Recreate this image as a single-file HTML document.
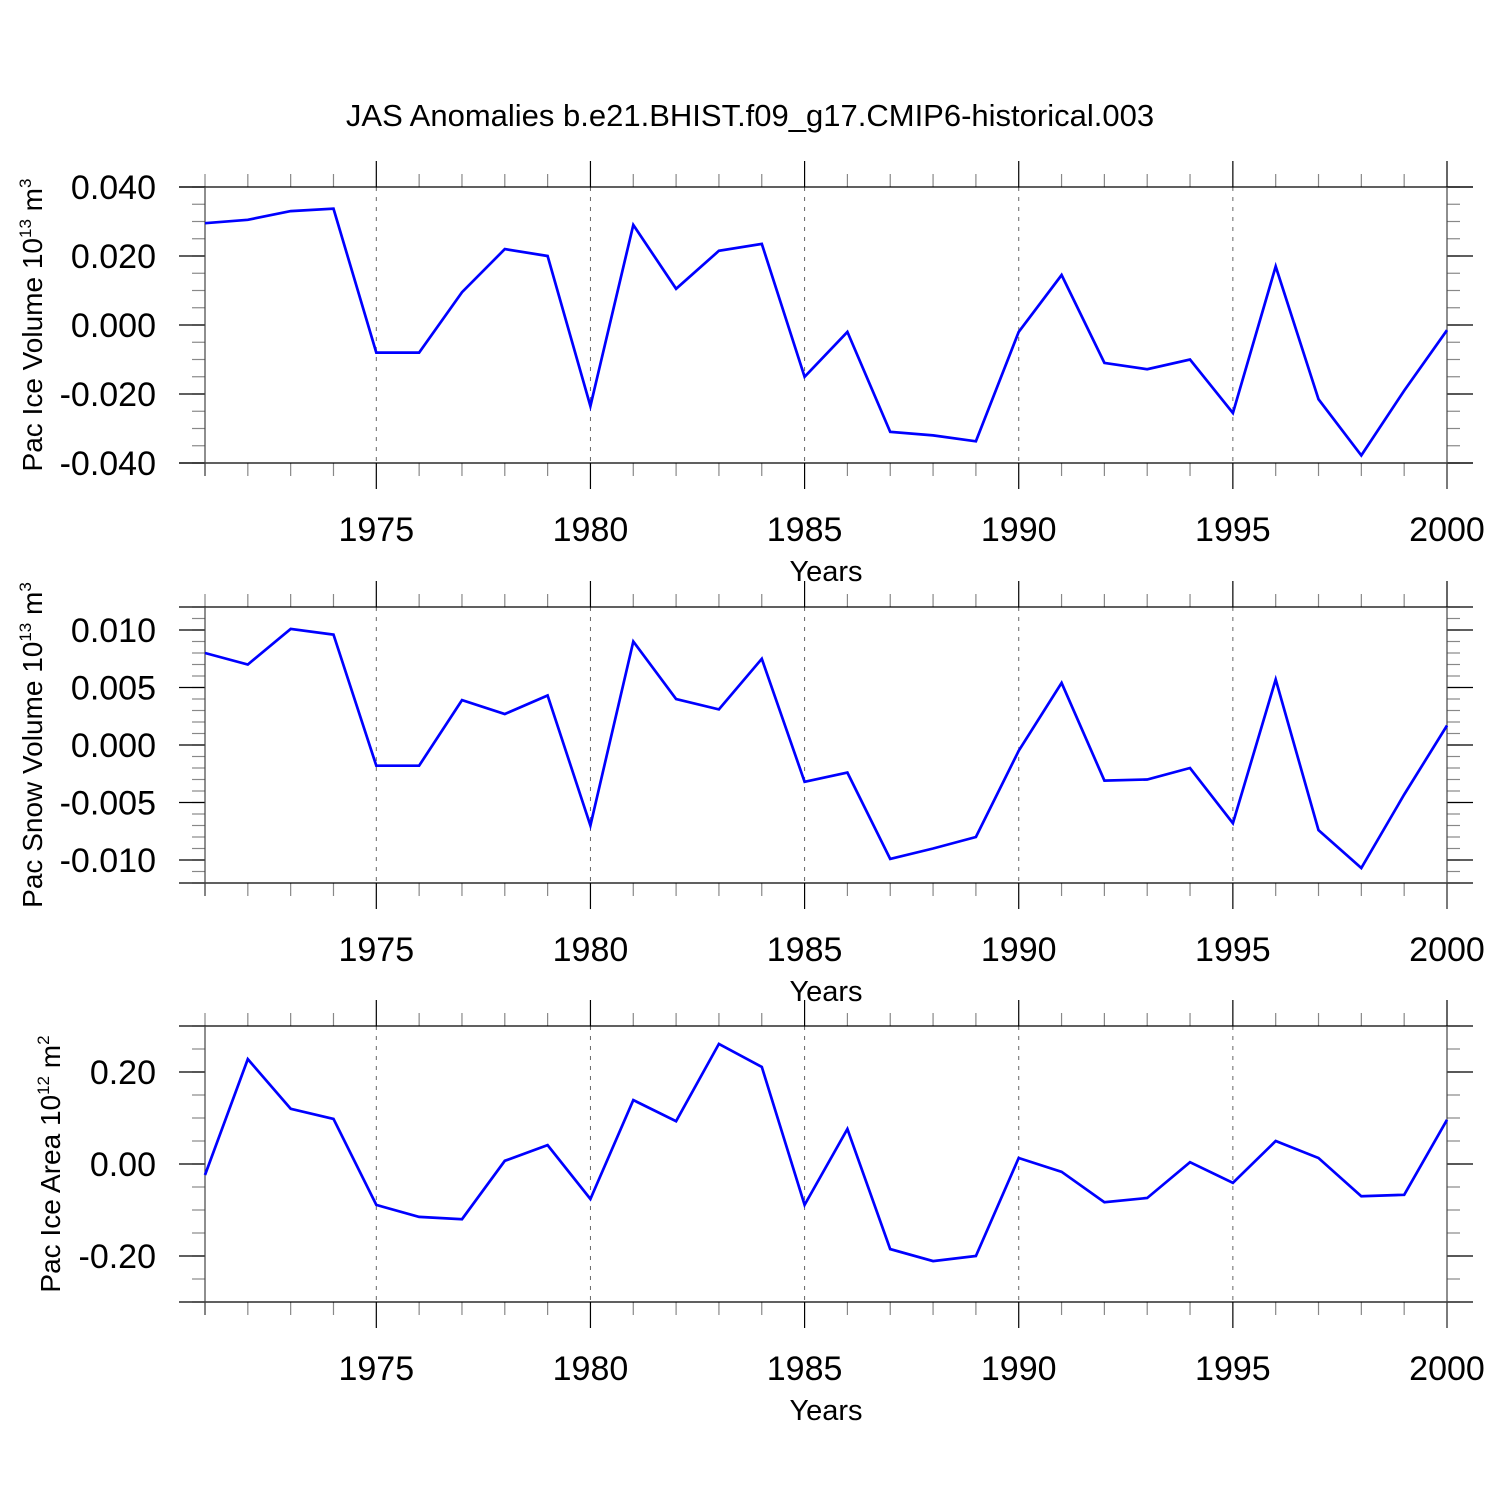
<!DOCTYPE html>
<html><head><meta charset="utf-8"><style>
body{margin:0;background:#fff}
svg{font-family:"Liberation Sans",sans-serif;display:block}
</style></head><body>
<svg id="chart" width="1500" height="1500" viewBox="0 0 1500 1500">
<rect width="1500" height="1500" fill="#fff"/>
<text x="750" y="126" font-size="31" text-anchor="middle">JAS Anomalies b.e21.BHIST.f09_g17.CMIP6-historical.003</text>
</svg>
<script>
const years = [1971,1972,1973,1974,1975,1976,1977,1978,1979,1980,1981,1982,1983,1984,1985,1986,1987,1988,1989,1990,1991,1992,1993,1994,1995,1996,1997,1998,1999,2000];
const iceVolume = [0.0295,0.0305,0.033,0.0337,-0.008,-0.008,0.0095,0.022,0.020,-0.0235,0.029,0.0105,0.0215,0.0235,-0.015,-0.002,-0.031,-0.032,-0.0337,-0.002,0.0145,-0.011,-0.0128,-0.010,-0.0255,0.017,-0.0215,-0.0378,-0.019,-0.0015];
const snowVolume = [0.0080,0.0070,0.0101,0.0096,-0.0018,-0.0018,0.0039,0.0027,0.0043,-0.0070,0.0090,0.0040,0.0031,0.0075,-0.0032,-0.0024,-0.0099,-0.0090,-0.0080,-0.0005,0.0054,-0.0031,-0.0030,-0.0020,-0.0068,0.0057,-0.0074,-0.0107,-0.0043,0.0017];
const iceArea = [-0.024,0.228,0.12,0.098,-0.089,-0.115,-0.12,0.007,0.041,-0.076,0.139,0.093,0.261,0.211,-0.089,0.076,-0.185,-0.211,-0.2,0.013,-0.017,-0.083,-0.074,0.004,-0.041,0.05,0.013,-0.07,-0.067,0.096];
const xTickLabels = [1975,1980,1985,1990,1995,2000];
const iceVolTicks = ["0.040","0.020","0.000","-0.020","-0.040"];
const snowVolTicks = ["0.010","0.005","0.000","-0.005","-0.010"];
const iceAreaTicks = ["0.20","0.00","-0.20"];

const NS="http://www.w3.org/2000/svg";
const svg=document.getElementById('chart');
function mk(tag,attrs,parent){const e=document.createElementNS(NS,tag);for(const k in attrs)e.setAttribute(k,attrs[k]);(parent||svg).appendChild(e);return e;}
const X0=205,X1=1447;
function xs(y){return X0+(y-1971)*(X1-X0)/29;}

function panel(name,top,ymin,ymax,minorStep,majorTicks,data,title,sup,unitExp){
  const bot=top+276;
  const ys=v=>bot-(v-ymin)*(bot-top)/(ymax-ymin);
  const g=mk('g',{});
  
  
  for(const yr of xTickLabels){ if(yr===2000) continue;
    const l=mk('line',{x1:xs(yr),x2:xs(yr),y1:top,y2:bot,stroke:'#666','stroke-width':1,'stroke-dasharray':'4,6'},g);
    
    
  }
  for(let yr=1971;yr<=2000;yr++){
    const maj=yr%5===0, len=maj?26:13, c=maj?'#000':'#888';
    mk('line',{x1:xs(yr),x2:xs(yr),y1:top-len,y2:top,stroke:c,'stroke-width':1.2},g);
    mk('line',{x1:xs(yr),x2:xs(yr),y1:bot,y2:bot+len,stroke:c,'stroke-width':1.2},g);
  }
  const n=Math.round((ymax-ymin)/minorStep);
  for(let i=0;i<=n;i++){
    const v=ymin+i*minorStep, y=ys(v);
    mk('line',{x1:X0-13,x2:X0,y1:y,y2:y,stroke:'#888','stroke-width':1.2},g);
    mk('line',{x1:X1,x2:X1+13,y1:y,y2:y,stroke:'#888','stroke-width':1.2},g);
  }
  for(const t of majorTicks){
    const y=ys(parseFloat(t));
    mk('line',{x1:X0-26,x2:X0,y1:y,y2:y,stroke:'#000','stroke-width':1.2},g);
    mk('line',{x1:X1,x2:X1+26,y1:y,y2:y,stroke:'#000','stroke-width':1.2},g);
    const tx=mk('text',{x:156,y:y+12,'font-size':34,'text-anchor':'end'},g);
    tx.textContent=t;
    
    
  }
  mk('line',{x1:X0-26,x2:X1+26,y1:top,y2:top,stroke:'#000','stroke-width':1.2},g);
  mk('line',{x1:X0-26,x2:X1+26,y1:bot,y2:bot,stroke:'#000','stroke-width':1.2},g);
  mk('line',{x1:X0,x2:X0,y1:top,y2:bot+13,stroke:'#444','stroke-width':1.2},g);
  mk('line',{x1:X1,x2:X1,y1:top,y2:bot+26,stroke:'#444','stroke-width':1.2},g);
  for(const yr of xTickLabels){
    const tx=mk('text',{x:xs(yr),y:bot+78,'font-size':34,'text-anchor':'middle'},g);
    tx.textContent=yr;
    
    
  }
  const xt=mk('text',{x:826,y:bot+118,'font-size':29,'text-anchor':'middle'},g);
  xt.textContent='Years';
  
  
  const cx=title.x, cy=(top+bot)/2;
  const yt=mk('text',{x:cx,y:cy,'font-size':28,'text-anchor':'middle',transform:`rotate(-90 ${cx} ${cy})`},g);
  
  
  yt.appendChild(document.createTextNode(title.t+' 10'));
  const s=mk('tspan',{dy:-11,'font-size':17},yt); s.textContent=unitExp;
  const s2=mk('tspan',{dy:11},yt); s2.textContent=' m';
  const s3=mk('tspan',{dy:-11,'font-size':17},yt); s3.textContent=sup;
  const pts=years.map((yr,i)=>xs(yr).toFixed(1)+','+ys(data[i]).toFixed(1)).join(' ');
  const pl=mk('polyline',{points:pts,fill:'none',stroke:'#0000ff','stroke-width':2.7,'stroke-linejoin':'miter'},g);
  
  
}
panel('ice-volume',187,-0.04,0.04,0.005,iceVolTicks,iceVolume,{x:42,t:'Pac Ice Volume'},'3','13');
panel('snow-volume',607,-0.012,0.012,0.001,snowVolTicks,snowVolume,{x:42,t:'Pac Snow Volume'},'3','13');
panel('ice-area',1026,-0.3,0.3,0.05,iceAreaTicks,iceArea,{x:60,t:'Pac Ice Area'},'2','12');
</script>
</body></html>
